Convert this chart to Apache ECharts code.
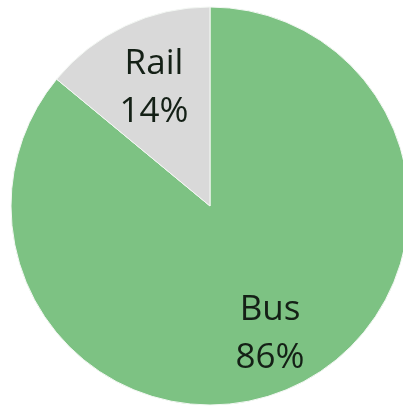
<!DOCTYPE html>
<html>
<head>
<meta charset="utf-8">
<script src="https://cdn.jsdelivr.net/npm/echarts@6/dist/echarts.min.js"></script>
<style>
  html, body { margin: 0; padding: 0; background: #ffffff; }
  #chart { width: 403px; height: 409px; }
</style>
</head>
<body>
<div id="chart"></div>
<script>
// Mode share by ridership
const categories = ['Bus', 'Rail'];
const shares = [86, 14];
const sliceColors = ['#7dc283', '#d9d9d9'];

const pieData = categories.map((name, i) => ({
  name: name,
  value: shares[i],
  itemStyle: { color: sliceColors[i] }
}));

const center = [210, 206];
const outer = 199;

const chart = echarts.init(document.getElementById('chart'), null, { renderer: 'canvas' });
chart.setOption({
  backgroundColor: '#ffffff',
  animation: false,
  series: [
    {
      // filled slices
      type: 'pie',
      center: center,
      radius: [0, outer],
      startAngle: 90,
      clockwise: true,
      silent: true,
      label: { show: false },
      labelLine: { show: false },
      itemStyle: { borderColor: '#f4f8f4', borderWidth: 1 },
      data: pieData
    },
    {
      // transparent ring that places the labels further out along each slice
      type: 'pie',
      center: center,
      radius: [outer * 0.34, outer],
      startAngle: 90,
      clockwise: true,
      silent: true,
      itemStyle: { color: 'rgba(0,0,0,0)' },
      label: {
        show: true,
        position: 'inside',
        formatter: p => p.name + '\n' + p.value + '%',
        fontFamily: 'Open Sans',
        fontSize: 35,
        lineHeight: 48,
        color: '#142016',
        align: 'center',
        offset: [2, 5]
      },
      labelLine: { show: false },
      data: categories.map((name, i) => ({ name: name, value: shares[i] }))
    }
  ]
});
</script>
</body>
</html>
